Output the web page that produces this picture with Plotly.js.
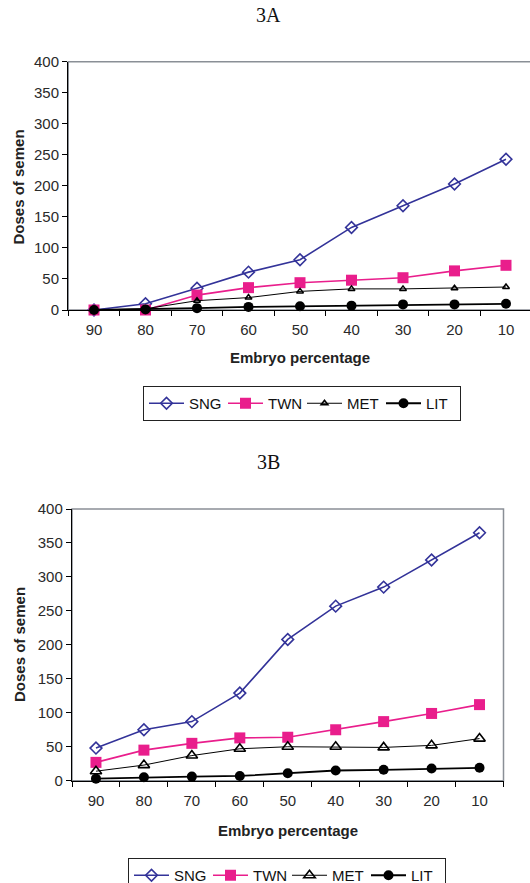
<!DOCTYPE html>
<html>
<head>
<meta charset="utf-8">
<script src="https://cdn.plot.ly/plotly-3.0.1.min.js"></script>
<style>
html,body{margin:0;padding:0;overflow:hidden;background:#fff;}
#chart{width:540px;height:883px;}
</style>
</head>
<body>
<div id="chart"></div>
<script>
var categories = ['90','80','70','60','50','40','30','20','10'];
var seriesNames = ['SNG','TWN','MET','LIT'];
var xTitle = 'Embryo percentage';
var yTitle = 'Doses of semen';

// Figure 3A
var sngA = [0, 10, 35, 61, 81, 133, 168, 203, 243];
var twnA = [0, 0, 24, 36, 44, 48, 52, 63, 72];
var metA = [0, 2, 15, 20, 30, 34, 34, 35, 37];
var litA = [0, 1, 3, 5, 6, 7, 9, 9, 10];

// Figure 3B
var sngB = [48, 75, 87, 129, 208, 257, 285, 325, 365];
var twnB = [27, 45, 55, 63, 64, 75, 87, 99, 112];
var metB = [14, 23, 37, 47, 50, 50, 49, 52, 62];
var litB = [3, 5, 6, 7, 11, 15, 16, 18, 19];

var yTicks = [0, 50, 100, 150, 200, 250, 300, 350, 400];

var W = 540, H = 883;
function px(x){ return x / W; }
function py(y){ return 1 - y / H; }

var styles = {
  SNG: {line:{color:'#333399', width:1.6}, marker:{symbol:'diamond-open', size:9, color:'#333399', line:{width:1.6, color:'#333399'}}},
  TWN: {line:{color:'#E91E8C', width:1.6}, marker:{symbol:'square', size:11, color:'#E91E8C'}},
  METa: {line:{color:'#000000', width:1}, marker:{symbol:'triangle-up-open', size:6, color:'#000000', line:{width:1.5, color:'#000000'}}},
  METb: {line:{color:'#000000', width:1}, marker:{symbol:'triangle-up-open', size:10, color:'#000000', line:{width:1.6, color:'#000000'}}},
  LIT: {line:{color:'#000000', width:1.8}, marker:{symbol:'circle', size:10, color:'#000000'}}
};

function tr(name, vals, st, xa, ya, lg){
  return {x: categories, y: vals, name: name, type:'scatter', mode:'lines+markers',
    xaxis: xa, yaxis: ya, legend: lg, line: st.line, marker: st.marker, cliponaxis:false};
}

var data = [
  tr(seriesNames[0], sngA, styles.SNG, 'x', 'y', 'legend'),
  tr(seriesNames[1], twnA, styles.TWN, 'x', 'y', 'legend'),
  tr(seriesNames[2], metA, styles.METa, 'x', 'y', 'legend'),
  tr(seriesNames[3], litA, styles.LIT, 'x', 'y', 'legend'),
  tr(seriesNames[0], sngB, styles.SNG, 'x2', 'y2', 'legend2'),
  tr(seriesNames[1], twnB, styles.TWN, 'x2', 'y2', 'legend2'),
  tr(seriesNames[2], metB, styles.METb, 'x2', 'y2', 'legend2'),
  tr(seriesNames[3], litB, styles.LIT, 'x2', 'y2', 'legend2')
];

var sans = 'Liberation Sans, Arial, sans-serif';
var tickFont = {family:sans, size:15, color:'#2a2a2a'};
var titleFont = {family:sans, size:15, color:'#222'};

function xax(domain, anchor){
  return {domain: domain, anchor: anchor, type:'category', range:[-0.5, 8.5],
    showline:true, linecolor:'#000', linewidth:1.2, ticks:'outside', tickson:'boundaries',
    ticklen:5, tickcolor:'#000', tickfont: tickFont, showgrid:false, zeroline:false,
    fixedrange:true, automargin:false, ticklabelstandoff:6};
}
function yax(domain, anchor){
  return {domain: domain, anchor: anchor, range:[0, 400], tickvals: yTicks,
    showline:true, linecolor:'#000', linewidth:1.2, ticks:'outside', ticklen:5,
    tickcolor:'#000', tickfont: tickFont, showgrid:false, zeroline:false, fixedrange:true,
    automargin:false};
}

var legendBase = {orientation:'h', xanchor:'left', yanchor:'top',
  bordercolor:'#222', borderwidth:1, bgcolor:'#fff',
  font:{family:sans, size:15, color:'#111'},
  itemwidth:35, tracegroupgap:0, entrywidth:29, entrywidthmode:'pixels'};

function txt(t, x, y, font, angle){
  return {text:t, xref:'paper', yref:'paper', x:px(x), y:py(y), xanchor:'center', yanchor:'middle',
    showarrow:false, font:font, textangle: angle || 0};
}
var capFont = {family:'Liberation Serif, Times New Roman, serif', size:20, color:'#111'};

var layout = {
  width: W, height: H,
  margin:{l:0, r:0, t:0, b:0, autoexpand:false},
  paper_bgcolor:'#fff', plot_bgcolor:'#fff',
  showlegend:true,
  xaxis: xax([px(68.25), px(531.75)], 'y'),
  yaxis: yax([py(310), py(61.7)], 'x'),
  xaxis2: xax([px(72), px(503.5)], 'y2'),
  yaxis2: yax([py(780.7), py(509)], 'x2'),
  legend: Object.assign({}, legendBase, {x: px(143), y: py(386)}),
  legend2: Object.assign({}, legendBase, {x: px(128), y: py(858)}),
  shapes:[
    {type:'rect', xref:'x domain', yref:'y domain', x0:0, x1:1, y0:0, y1:1,
     line:{color:'#8a8f96', width:1.5}, layer:'below'},
    {type:'rect', xref:'x2 domain', yref:'y2 domain', x0:0, x1:1, y0:0, y1:1,
     line:{color:'#8a8f96', width:1.5}, layer:'below'}
  ],
  annotations:[
    txt('3A', 268, 15, capFont),
    txt('3B', 268, 462, capFont),
    txt('<b>' + xTitle + '</b>', 300, 358, titleFont),
    txt('<b>' + xTitle + '</b>', 288, 830, titleFont),
    txt('<b>' + yTitle + '</b>', 17.5, 187, titleFont, -90),
    txt('<b>' + yTitle + '</b>', 19, 645, titleFont, -90)
  ]
};

Plotly.newPlot('chart', data, layout, {displayModeBar:false, staticPlot:true});
</script>
</body>
</html>
